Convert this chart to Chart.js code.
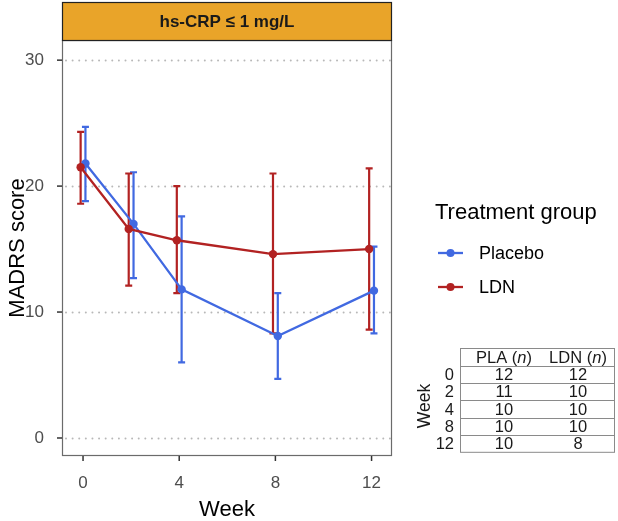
<!DOCTYPE html>
<html>
<head>
<meta charset="utf-8">
<script src="https://cdn.jsdelivr.net/npm/chart.js@4"></script>
<style>
  body { margin: 0; background: #fff; }
  canvas { display: block; }
</style>
</head>
<body>
<canvas id="madrs" width="618" height="521"></canvas>
<script>
const weeks = [0, 2, 4, 8, 12];
const placeboMean = [21.8, 17.0, 11.8, 8.1, 11.7];
const placeboLow = [18.8, 12.7, 6.0, 4.7, 8.3];
const placeboHigh = [24.7, 21.1, 17.6, 11.5, 15.2];
const ldnMean = [21.5, 16.6, 15.7, 14.6, 15.0];
const ldnLow = [18.6, 12.1, 11.5, 8.3, 8.6];
const ldnHigh = [24.3, 21.0, 20.0, 21.0, 21.4];
const plaN = [12, 11, 10, 10, 10];
const ldnN = [12, 10, 10, 10, 8];
const xTicks = [0, 4, 8, 12];
const yTicks = [0, 10, 20, 30];
const stripLabel = 'hs-CRP \u2264 1 mg/L';

const blue = '#4169E1';
const red = '#B22222';
const dodge = 0.1;
const FONT = '"Liberation Sans", Arial, sans-serif';

const ctx = document.getElementById('madrs').getContext('2d');

function makeSet(label, mean, low, high, color, shift, order) {
  return {
    label: label,
    data: weeks.map((w, i) => ({ x: w + shift, y: mean[i] })),
    low: low,
    high: high,
    borderColor: color,
    backgroundColor: color,
    borderWidth: 2.3,
    pointRadius: 4.2,
    pointHoverRadius: 4.2,
    pointBorderWidth: 0,
    tension: 0,
    order: order
  };
}

// error bars, grid, frame and facet strip
const decor = {
  id: 'decor',
  beforeDatasetsDraw(chart) {
    const c = chart.ctx;
    const a = chart.chartArea;
    const xs = chart.scales.x, ys = chart.scales.y;
    c.save();
    // dotted grid
    c.strokeStyle = '#b8b8b8';
    c.lineWidth = 2;
    c.setLineDash([0.01, 6.6]);
    c.lineCap = 'round';
    yTicks.forEach(v => {
      const y = Math.round(ys.getPixelForValue(v)) + 0.5;
      c.beginPath();
      c.moveTo(a.left + 4, y);
      c.lineTo(a.right, y);
      c.stroke();
    });
    c.setLineDash([]);
    c.lineCap = 'butt';
    // error bars
    chart.data.datasets.forEach(ds => {
      c.strokeStyle = ds.borderColor;
      c.lineWidth = 2.2;
      ds.data.forEach((p, i) => {
        const x = xs.getPixelForValue(p.x);
        const y1 = ys.getPixelForValue(ds.low[i]);
        const y2 = ys.getPixelForValue(ds.high[i]);
        c.beginPath();
        c.moveTo(x, y1); c.lineTo(x, y2);
        c.moveTo(x - 3.5, y1); c.lineTo(x + 3.5, y1);
        c.moveTo(x - 3.5, y2); c.lineTo(x + 3.5, y2);
        c.stroke();
      });
    });
    c.restore();
  },
  afterDraw(chart) {
    const c = chart.ctx;
    const a = chart.chartArea;
    const xs = chart.scales.x, ys = chart.scales.y;
    c.save();
    // panel frame
    c.strokeStyle = '#6b6b6b';
    c.lineWidth = 1.2;
    c.strokeRect(a.left + 0.5, a.top + 0.5, a.right - a.left - 1, a.bottom - a.top - 1);
    // tick marks
    c.strokeStyle = '#333';
    c.lineWidth = 1.5;
    yTicks.forEach(v => {
      const y = ys.getPixelForValue(v);
      c.beginPath(); c.moveTo(a.left - 5, y); c.lineTo(a.left, y); c.stroke();
    });
    xTicks.forEach(v => {
      const x = xs.getPixelForValue(v);
      c.beginPath(); c.moveTo(x, a.bottom); c.lineTo(x, a.bottom + 5); c.stroke();
    });
    // facet strip
    c.fillStyle = '#E9A429';
    c.fillRect(a.left, 2, a.right - a.left, a.top - 2);
    c.strokeStyle = '#222';
    c.lineWidth = 1.2;
    c.strokeRect(a.left + 0.5, 2.5, a.right - a.left - 1, a.top - 2);
    c.fillStyle = '#1a1a1a';
    c.font = 'bold 17px ' + FONT;
    c.textAlign = 'center';
    c.textBaseline = 'middle';
    c.fillText(stripLabel, (a.left + a.right) / 2, 22);

    // legend
    c.fillStyle = '#000';
    c.textAlign = 'left';
    c.font = '22px ' + FONT;
    c.fillText('Treatment group', 435, 213);
    chart.data.datasets.slice().sort((p, q) => q.order - p.order).forEach((ds, k) => {
      const y = 253 + k * 34;
      c.strokeStyle = ds.borderColor;
      c.lineWidth = 2.3;
      c.beginPath(); c.moveTo(438, y); c.lineTo(463, y); c.stroke();
      c.fillStyle = ds.borderColor;
      c.beginPath(); c.arc(450.5, y, 4, 0, Math.PI * 2); c.fill();
      c.fillStyle = '#000';
      c.font = '18px ' + FONT;
      c.fillText(ds.label, 479, y + 1);
    });

    // n table
    const tl = 460.5, tr = 614.5, tt = 348.5, rowH = 17.3;
    const colA = 504, colB = 578;
    c.strokeStyle = '#8a8a8a';
    c.lineWidth = 1;
    c.strokeRect(tl, tt, tr - tl, rowH * 6);
    for (let r = 1; r < 6; r++) {
      const y = Math.round(tt + rowH * r) + 0.5;
      c.beginPath(); c.moveTo(tl, y); c.lineTo(tr, y); c.stroke();
    }
    c.fillStyle = '#1a1a1a';
    c.textBaseline = 'middle';
    const hy = tt + rowH / 2 + 1;
    [['PLA (', colA], ['LDN (', colB]].forEach(h => {
      c.font = '16.5px ' + FONT;
      const w1 = c.measureText(h[0]).width;
      c.font = 'italic 16.5px ' + FONT;
      const w2 = c.measureText('n').width;
      c.font = '16.5px ' + FONT;
      const w3 = c.measureText(')').width;
      let x = h[1] - (w1 + w2 + w3) / 2;
      c.textAlign = 'left';
      c.fillText(h[0], x, hy);
      c.font = 'italic 16.5px ' + FONT;
      c.fillText('n', x + w1, hy);
      c.font = '16.5px ' + FONT;
      c.fillText(')', x + w1 + w2, hy);
    });
    c.font = '16.5px ' + FONT;
    weeks.forEach((w, i) => {
      const y = tt + rowH * (i + 1) + rowH / 2 + 1;
      c.textAlign = 'center';
      c.fillText(String(plaN[i]), colA, y);
      c.fillText(String(ldnN[i]), colB, y);
      c.textAlign = 'right';
      c.fillText(String(w), 454, y);
    });
    c.translate(425, 406);
    c.rotate(-Math.PI / 2);
    c.textAlign = 'center';
    c.font = '17.5px ' + FONT;
    c.fillText('Week', 0, 0);
    c.restore();
  }
};

const chart = new Chart(ctx, {
  type: 'line',
  data: {
    datasets: [
      makeSet('Placebo', placeboMean, placeboLow, placeboHigh, blue, dodge, 1),
      makeSet('LDN', ldnMean, ldnLow, ldnHigh, red, -dodge, 0)
    ]
  },
  options: {
    responsive: false,
    animation: false,
    devicePixelRatio: 1,
    layout: { padding: { top: 40, right: 226, left: 0, bottom: 0 } },
    plugins: {
      legend: { display: false },
      tooltip: { enabled: false }
    },
    scales: {
      x: {
        type: 'linear',
        min: -0.875,
        max: 12.85,
        grid: { display: false },
        border: { display: false },
        afterBuildTicks: s => { s.ticks = xTicks.map(v => ({ value: v })); },
        afterFit: s => { s.height = 65; },
        ticks: {
          color: '#4d4d4d',
          font: { family: FONT, size: 17 },
          padding: 9,
          maxRotation: 0
        },
        title: {
          display: true,
          text: 'Week',
          color: '#000',
          font: { family: FONT, size: 22, lineHeight: 1 },
          padding: { top: 0, bottom: 0 }
        }
      },
      y: {
        min: -1.43,
        max: 31.6,
        grid: { display: false },
        border: { display: false },
        afterBuildTicks: s => { s.ticks = yTicks.map(v => ({ value: v })); },
        afterFit: s => { s.width = 62; },
        ticks: {
          color: '#4d4d4d',
          font: { family: FONT, size: 17 },
          padding: 10
        },
        title: {
          display: true,
          text: 'MADRS score',
          color: '#000',
          font: { family: FONT, size: 22, lineHeight: 1 },
          padding: { top: 7, bottom: 0 }
        }
      }
    }
  },
  plugins: [decor]
});
</script>
</body>
</html>
